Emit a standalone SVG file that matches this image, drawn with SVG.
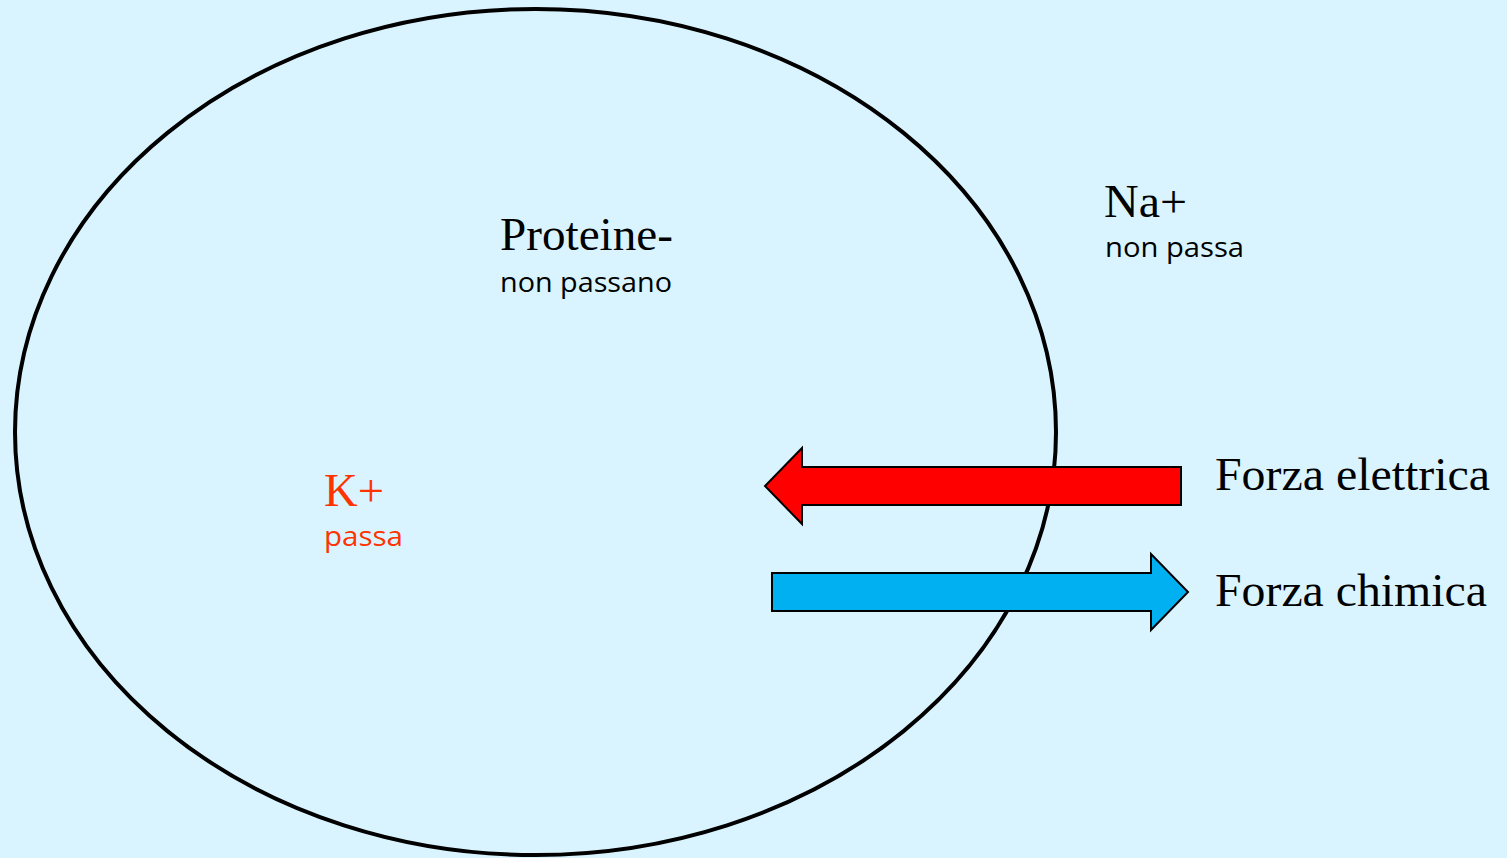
<svg xmlns="http://www.w3.org/2000/svg" width="1507" height="858" viewBox="0 0 1507 858">
<style>
.serif{font-family:"Liberation Serif","Times New Roman",serif;font-size:47px;fill:#000}
.hand{font-family:"Open Sans","DejaVu Sans",sans-serif;font-size:28px;fill:#000}
.arrow{stroke:#000;stroke-width:2;stroke-linejoin:miter}
</style>
<rect x="0" y="0" width="1507" height="858" fill="#d9f4fe"/>
<g id="cell">
<ellipse cx="535.5" cy="432" rx="520.5" ry="423" fill="none" stroke="#000" stroke-width="4"/>
</g>
<g id="proteine">
<text class="serif" x="500" y="250" textLength="173" lengthAdjust="spacingAndGlyphs">Proteine-</text>
<text class="hand" x="500" y="292" textLength="172" lengthAdjust="spacingAndGlyphs">non passano</text>
</g>
<g id="na">
<text class="serif" x="1104" y="217" textLength="83" lengthAdjust="spacingAndGlyphs">Na+</text>
<text class="hand" x="1105" y="257" textLength="139" lengthAdjust="spacingAndGlyphs">non passa</text>
</g>
<g id="k">
<text class="serif" x="324" y="506" style="fill:#ff3300" textLength="60" lengthAdjust="spacingAndGlyphs">K+</text>
<text class="hand" x="324" y="546" style="fill:#ff3300" textLength="79" lengthAdjust="spacingAndGlyphs">passa</text>
</g>
<g id="connectors">
<polygon id="forza-elettrica-arrow" class="arrow" fill="#ff0000" points="1181,467 802,467 802,448 765,486 802,524 802,505 1181,505"/>
<polygon id="forza-chimica-arrow" class="arrow" fill="#00b0f0" points="772,573 1151,573 1151,554 1188,592 1151,630 1151,611 772,611"/>
</g>
<g id="labels">
<text class="serif" x="1215" y="490" textLength="275" lengthAdjust="spacingAndGlyphs">Forza elettrica</text>
<text class="serif" x="1215" y="606" textLength="272" lengthAdjust="spacingAndGlyphs">Forza chimica</text>
</g>
</svg>
